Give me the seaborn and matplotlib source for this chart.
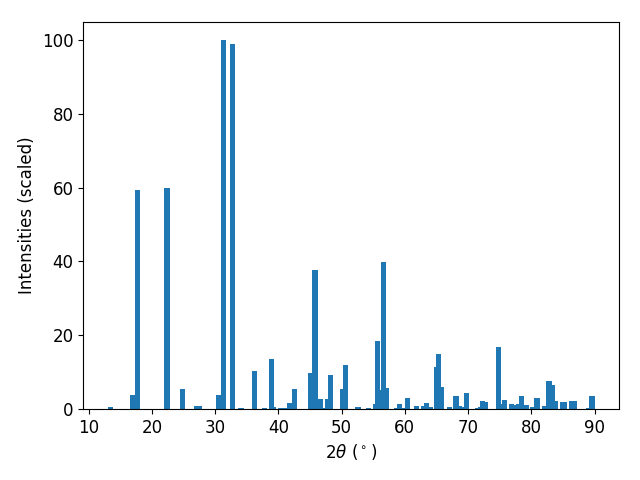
"""XRD stick pattern: scaled intensity vs 2-theta."""
import matplotlib
matplotlib.use("Agg")
import matplotlib.pyplot as plt
import numpy as np
import pandas as pd
import seaborn as sns

two_theta = [
    13.4, 16.9, 17.8, 22.4, 24.8, 27.1, 27.5, 30.6, 31.3, 32.7,
    34.1, 36.2, 37.8, 38.9, 39.2, 40.3, 41.1, 41.7, 42.5, 45.1,
    45.8, 46.6, 47.4, 47.8, 48.3, 50.1, 50.6, 52.6, 54.2, 55.4,
    55.7, 56.2, 56.6, 57.1, 58.7, 59.2, 59.9, 60.4, 61.8, 62.9,
    63.5, 64.1, 65.0, 65.4, 65.8, 67.0, 68.1, 68.7, 69.3, 69.8,
    71.5, 71.9, 72.3, 72.8, 74.8, 75.3, 75.7, 76.8, 77.2, 78.0,
    78.5, 79.2, 80.2, 80.9, 82.1, 82.8, 83.3, 83.9, 84.9, 85.3,
    86.4, 86.8, 89.0, 89.6,
]
intensity = [
    0.5, 3.8, 59.3, 59.9, 5.4, 0.8, 0.8, 3.8, 100.0, 98.9,
    0.3, 10.3, 0.3, 13.5, 0.5, 0.3, 0.3, 1.6, 5.4, 9.8,
    37.7, 2.7, 0.3, 2.7, 9.2, 5.4, 11.9, 0.5, 0.3, 1.4,
    18.4, 5.1, 39.8, 5.7, 0.3, 1.4, 0.3, 3.0, 0.8, 0.8,
    1.6, 0.5, 11.4, 14.9, 6.0, 0.5, 3.5, 0.8, 0.5, 4.3,
    0.3, 0.5, 2.2, 1.9, 16.8, 1.4, 2.4, 1.4, 1.1, 1.4,
    3.5, 1.1, 0.5, 3.0, 0.8, 7.6, 6.5, 2.2, 1.9, 1.9,
    2.2, 2.2, 0.3, 3.5,
]

df = pd.DataFrame({"two_theta": two_theta, "intensity": intensity})

# bar width of 0.8 degrees in data units (seaborn scales by min spacing)
min_gap = np.diff(np.sort(df["two_theta"].unique())).min()

fig, ax = plt.subplots(figsize=(6.4, 4.8), dpi=100)
sns.barplot(data=df, x="two_theta", y="intensity", native_scale=True,
            width=0.8 / min_gap, color="#1f77b4", saturation=1,
            linewidth=0, errorbar=None, ax=ax)
ax.margins(x=0.05, y=0.05)
ax.autoscale()
ax.set_xticks([10, 20, 30, 40, 50, 60, 70, 80, 90])
ax.set_yticks([0, 20, 40, 60, 80, 100])
ax.tick_params(labelsize=12)
ax.set_xlabel(r"$2\theta$ ($^\circ$)", fontsize=12)
ax.set_ylabel("Intensities (scaled)", fontsize=12)
fig.subplots_adjust(left=0.13, right=0.967, top=0.955, bottom=0.148)
fig.savefig("out.png", dpi=100)
